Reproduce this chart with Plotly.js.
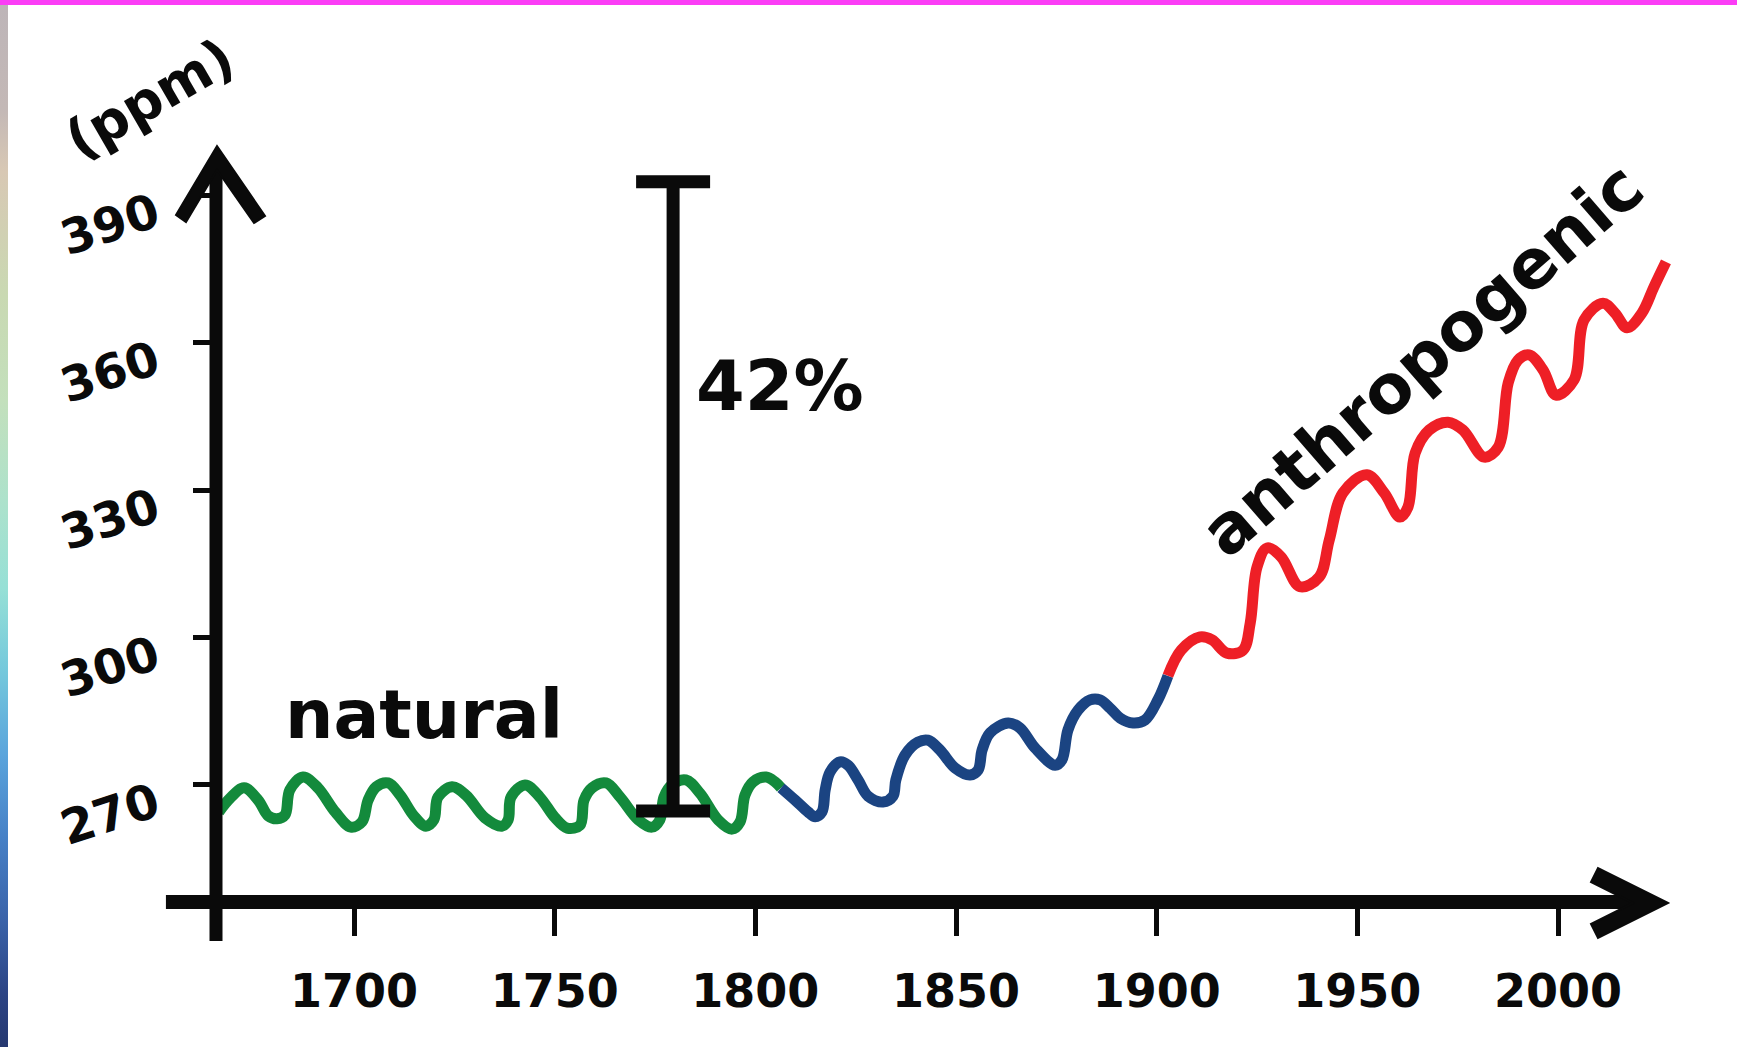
<!DOCTYPE html>
<html>
<head>
<meta charset="utf-8">
<script src="https://cdn.plot.ly/plotly-3.0.1.min.js"></script>
<style>
  html, body { margin: 0; padding: 0; background: #ffffff; }
  #wrap { position: relative; width: 1737px; height: 1047px; overflow: hidden; background: #ffffff; }
  #chart { position: absolute; left: 0; top: 0; width: 1737px; height: 1047px; }
  #topbar { position: absolute; left: 0; top: 0; width: 1737px; height: 5px; background: #fb3df6; z-index: 10; }
  #leftstrip { position: absolute; left: 0; top: 5px; width: 8px; height: 1042px; z-index: 10;
    background: linear-gradient(to bottom, #bdb5b8 0%, #c3b8b6 10%, #d8c8b4 16%, #c9d9b2 28%, #c3e0bc 38%,
      #ace2cc 48%, #96e0d6 56%, #74c8dc 64%, #5aa4dc 72%, #4680c6 80%, #3a62a8 88%, #2c4484 95%, #263870 100%); }
</style>
</head>
<body>
<div id="wrap">
  <div id="chart"></div>
  <div id="topbar"></div>
  <div id="leftstrip"></div>
</div>
<script>
// ---- data (year, CO2 ppm) ----
const naturalYears = [1666.3,1669.1,1672.6,1676.1,1678.6,1680.8,1682.8,1684.0,1687.3,1691.0,1695.3,1699.2,
  1702.0,1703.5,1705.5,1708.5,1711.5,1714.9,1717.9,1719.9,1720.9,1724.4,1727.9,1732.6,1736.9,1738.4,1739.1,
  1742.6,1746.3,1750.1,1753.1,1756.3,1757.3,1759.3,1762.8,1766.3,1770.8,1774.2,1776.2,1777.2,1779.2,1782.7,
  1786.2,1790.7,1794.2,1796.2,1797.4,1799.4,1802.7,1804.9,1806.4];
const naturalPpm = [264.5,267.3,269.4,266.9,263.7,263.1,263.9,269.0,271.6,269.4,264.5,261.4,
  262.5,266.9,269.6,270.4,267.9,263.7,261.6,262.9,267.5,269.6,267.9,263.3,261.6,262.9,267.5,
  270.0,267.5,263.3,261.2,261.8,266.9,269.4,270.4,267.5,262.9,261.4,262.9,267.5,270.0,271.0,
  268.3,262.9,261.0,262.5,267.9,270.6,271.6,270.6,269.4];

const industrialYears = [1806.4,1809.9,1813.1,1814.9,1816.6,1817.4,1818.6,1821.1,1823.1,1825.6,1828.1,1831.8,
  1834.3,1835.0,1837.3,1840.5,1843.0,1846.0,1849.8,1853.5,1855.5,1856.5,1858.5,1863.0,1865.9,1869.7,
  1874.7,1876.4,1877.9,1880.4,1883.4,1885.9,1888.4,1890.9,1894.1,1897.1,1900.3,1902.8];
const industrialPpm = [269.4,266.9,264.5,263.5,264.5,269.0,272.6,274.7,274.0,271.0,267.7,266.5,
  267.7,271.0,276.1,278.7,279.1,277.1,273.4,272.0,273.0,277.1,280.6,282.6,281.6,277.5,
  274.0,275.1,281.2,285.2,287.3,287.3,285.6,283.6,282.6,283.2,287.3,292.2];

const anthroYears = [1902.8,1906.1,1910.8,1913.8,1917.5,1921.5,1923.3,1925.0,1927.5,1931.0,1935.7,1940.5,
  1943.0,1946.4,1952.4,1956.7,1960.6,1962.6,1964.4,1967.9,1972.6,1976.3,1981.6,1985.1,1987.6,1990.0,
  1992.8,1996.3,1999.5,2004.0,2006.5,2011.2,2014.2,2017.2,2020.9,2023.9,2026.9];
const anthroPpm = [292.2,297.4,300.1,299.5,296.8,297.4,302.9,314.3,318.2,316.4,310.3,312.3,
  319.8,329.4,333.1,329.4,324.5,326.5,337.5,342.2,343.8,342.2,336.7,338.7,351.8,356.4,
  357.5,354.4,349.3,352.4,364.6,368.0,366.0,363.0,366.0,371.3,376.4];

// increase bar ("42%")
const barYear = [1779.5];
const barBase = [264.7];
const barRise = [128.0];

// ticks
const xTickVals = [1700, 1750, 1800, 1850, 1900, 1950, 2000];
const xTickText = ['1700', '1750', '1800', '1850', '1900', '1950', '2000'];
const yTickVals = [270, 300, 330, 360, 390];
const yTickText = ['270', '300', '330', '360', '390'];

// labels
const labelNatural = 'natural';
const labelAnthro = 'anthropogenic';
const labelPercent = '42%';
const labelUnit = '(ppm)';

const FONT = 'DejaVu Sans, Arial, sans-serif';

function wave(x, y, color) {
  return {
    type: 'scatter', mode: 'lines', x: x, y: y,
    line: { color: color, width: 11, shape: 'spline', smoothing: 1 },
    hoverinfo: 'skip'
  };
}

const traces = [
  wave(naturalYears, naturalPpm, '#138a3c'),
  wave(industrialYears, industrialPpm, '#1b4482'),
  wave(anthroYears, anthroPpm, '#ee1f26'),
  {
    type: 'scatter', mode: 'markers', x: barYear, y: barBase,
    marker: { size: 1, color: 'rgba(0,0,0,0)' },
    error_y: { type: 'data', symmetric: false, array: barRise, arrayminus: [0],
      color: '#0a0a0a', thickness: 13, width: 37 },
    hoverinfo: 'skip'
  }
];

const black = '#0a0a0a';
const layout = {
  width: 1737, height: 1047,
  margin: { l: 216, r: 57, t: 100, b: 147 },
  paper_bgcolor: '#ffffff', plot_bgcolor: '#ffffff',
  showlegend: false,
  font: { family: FONT, color: black },
  xaxis: {
    range: [1665.6, 2030.4], showgrid: false, zeroline: false, showline: false,
    tickmode: 'array', tickvals: xTickVals, ticktext: xTickText,
    ticks: 'outside', ticklen: 35, tickwidth: 5, tickcolor: black,
    tickfont: { family: FONT, size: 46, color: black, weight: 'bold' },
    ticklabelstandoff: 16, fixedrange: true
  },
  yaxis: {
    range: [246.58, 409.35], showgrid: false, zeroline: false, showline: false,
    tickmode: 'array', tickvals: yTickVals, ticktext: yTickText,
    ticks: 'outside', ticklen: 22, tickwidth: 5, tickcolor: black,
    tickfont: { family: FONT, size: 48, color: black, weight: 'bold' },
    tickangle: -18, ticklabelstandoff: 28, ticklabelshift: 14, fixedrange: true
  },
  shapes: [
    // x axis line
    { type: 'line', xref: 'paper', yref: 'paper', x0: -0.0342, x1: 0.975, y0: -0.0025, y1: -0.0025,
      line: { color: black, width: 14 } },
    // x arrow head (thick chevron outline)
    { type: 'path', xref: 'paper', yref: 'paper',
      path: 'M 0.99180 -0.00375 L 0.94399 0.04 L 0.93921 0.0225 L 0.96790 -0.00375 L 0.93921 -0.03 L 0.94399 -0.0475 Z',
      fillcolor: black, line: { color: black, width: 2 } },
    // y axis line
    { type: 'line', xref: 'paper', yref: 'paper', x0: 0, x1: 0, y0: -0.0512, y1: 0.925,
      line: { color: black, width: 13 } },
    // y arrow head (thick chevron outline)
    { type: 'path', xref: 'paper', yref: 'paper',
      path: 'M 0.00068 0.9425 L 0.03347 0.855 L 0.02596 0.84625 L 0.00068 0.9125 L -0.02049 0.8475 L -0.02732 0.85625 Z',
      fillcolor: black, line: { color: black, width: 2 } }
  ],
  annotations: [
    { xref: 'paper', yref: 'paper', x: -0.0451, y: 1.0025, xanchor: 'center', yanchor: 'middle',
      text: labelUnit, showarrow: false,
      textangle: -30, font: { family: FONT, size: 54, color: black, weight: 'bold' } },
    { xref: 'paper', yref: 'paper', x: 0.1421, y: 0.2313, xanchor: 'center', yanchor: 'middle',
      text: labelNatural, showarrow: false,
      font: { family: FONT, size: 68, color: black, weight: 'bold' } },
    { xref: 'paper', yref: 'paper', x: 0.3852, y: 0.6425, xanchor: 'center', yanchor: 'middle',
      text: labelPercent, showarrow: false,
      font: { family: FONT, size: 70, color: black, weight: 'bold' } },
    { xref: 'paper', yref: 'paper', x: 0.8238, y: 0.676, xanchor: 'center', yanchor: 'middle',
      text: labelAnthro, showarrow: false,
      textangle: -41, font: { family: FONT, size: 68, color: black, weight: 'bold' } }
  ]
};

Plotly.newPlot('chart', traces, layout, { staticPlot: true, displayModeBar: false });
</script>
</body>
</html>
